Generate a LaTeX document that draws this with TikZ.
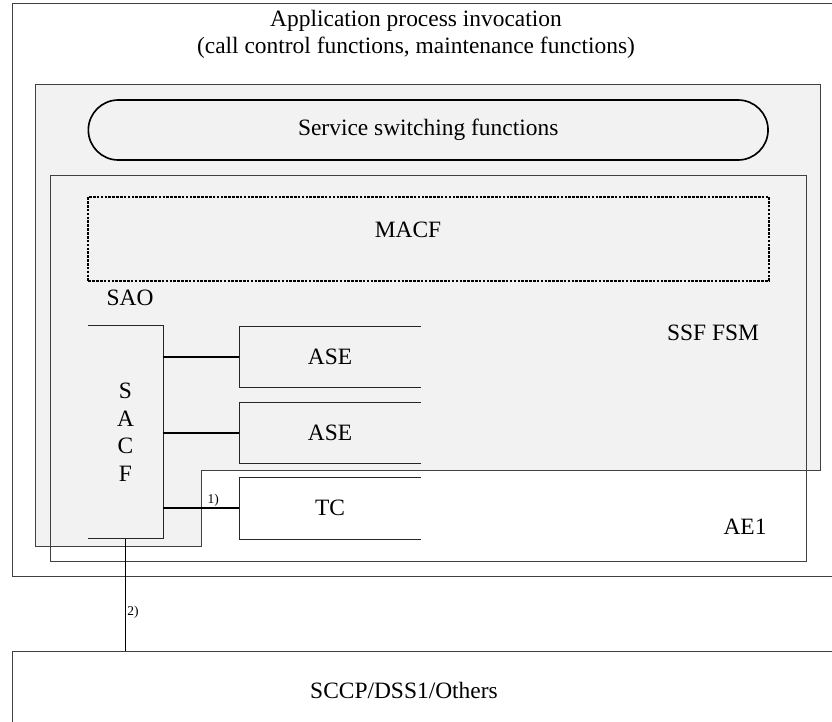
\documentclass[tikz,border=0pt]{standalone}
\usepackage{fontspec}
\setmainfont{Liberation Serif}
\usetikzlibrary{positioning, calc, fit, backgrounds}
\definecolor{saocolor}{RGB}{242, 242, 242}
\definecolor{framecolor}{RGB}{64, 64, 64}

\begin{document}
\begin{tikzpicture}[
    x=0.03cm, y=-0.03cm,
    frame/.style={rectangle, draw=framecolor, line width=0.8pt, inner sep=0pt},
    txt/.style={font=\fontsize{20}{23}\selectfont, align=center},
    note/.style={font=\fontsize{11.5}{13}\selectfont, inner sep=1pt},
    openbox/.style={rectangle, minimum width=5.44cm, minimum height=1.83cm, inner sep=0pt, txt},
    side/.style={draw=black!85, line width=0.9pt},
    link/.style={draw=black, line width=1.4pt}
]
\useasboundingbox (0,0) rectangle (832,722);
\clip (0,0) rectangle (832,722);

% Application process invocation
\node[frame, fit={(12.7,3) (845,576.7)}] (api) {};
\node[txt] (apitext) at (416,34) {Application process invocation\\(call control functions, maintenance functions)};

% SAO (grey area)
\fill[saocolor] (35.7,84.3) -- (820.7,84.3) -- (820.7,470.7) -- (201,470.7) -- (201,546.7) -- (35.7,546.7) -- cycle;
\draw[framecolor, line width=0.8pt] (35.7,84.3) -- (820.7,84.3) -- (820.7,470.7) -- (201,470.7) -- (201,546.7) -- (35.7,546.7) -- cycle;
\node[txt] (sao) at (130,298) {SAO};

% Service switching functions
\node[txt, draw=black, line width=1.4pt, rounded corners=0.9cm, minimum width=20.39cm, minimum height=1.8cm] (ssf) at (428.2,130) {Service switching functions};

% AE1
\node[frame, fit={(50,175.7) (806.7,561)}] (ae) {};
\node[txt] (aetext) at (745,526.7) {AE1};
\node[txt] (fsm) at (713,333) {SSF FSM};

% MACF
\node[rectangle, draw=black, line width=1.6pt, dash pattern=on 2.2pt off 1.1pt, minimum width=20.42cm, minimum height=2.52cm] (macf) at (428.7,238.7) {};
\node[txt] (macftext) at (408,230) {MACF};

% SACF
\node[txt, minimum width=2.25cm, minimum height=6.37cm, inner sep=0pt, font=\fontsize{20}{23.4}\selectfont] (sacf) at (125.5,432.2) {S\\A\\C\\F};
\draw[side] (sacf.north west) -- (sacf.north east) -- (sacf.south east) -- (sacf.south west);

% ASEs and TC
\node[openbox] (ase1) at (330,356.9) {ASE};
\node[openbox] (ase2) at (330,432.8) {ASE};
\node[openbox, fill=white] (tc) at (330,508.3) {TC};
\foreach \b in {ase1, ase2, tc}
    \draw[side] (\b.north east) -- (\b.north west) -- (\b.south west) -- (\b.south east);

% SCCP/DSS1/Others
\node[frame, fit={(12.7,651.7) (845,760)}] (sccp) {};
\node[txt] (sccptext) at (404,690) {SCCP/DSS1/Others};

% Connections
\draw[link] (sacf.east |- ase1) -- (ase1.west);
\draw[link] (sacf.east |- ase2) -- (ase2.west);
\draw[link] (sacf.east |- tc) -- (tc.west) node[note, above, pos=0.66] {1)};
\draw[link] (sacf.south) -- (sacf.south |- sccp.north) node[note, right, pos=0.65] {2)};

\end{tikzpicture}
\end{document}
